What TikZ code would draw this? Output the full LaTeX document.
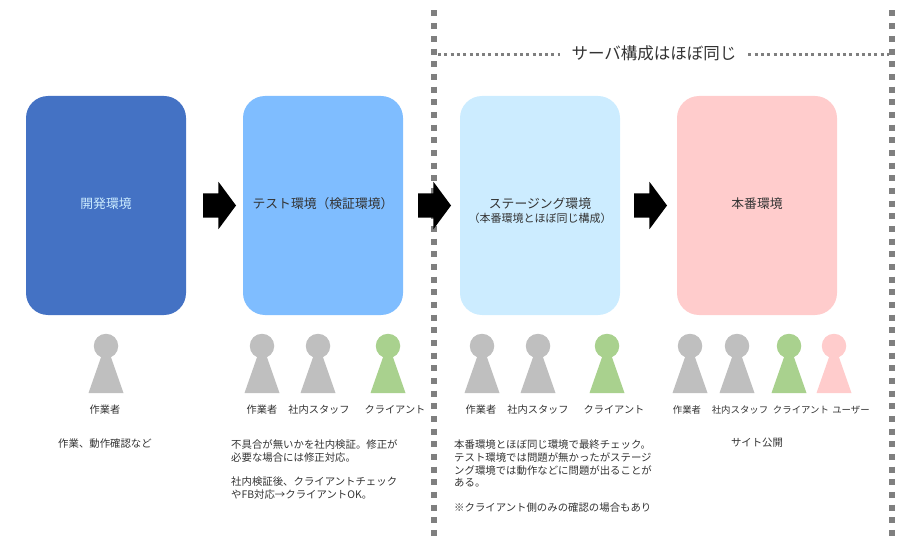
\documentclass[tikz,border=0pt]{standalone}
\usepackage{fontspec}
\setmainfont{Noto Sans CJK JP}
\definecolor{dev}{HTML}{4472C4}
\definecolor{tst}{HTML}{7FBDFF}
\definecolor{stg}{HTML}{CCECFF}
\definecolor{prd}{HTML}{FFCCCC}
\definecolor{staff}{HTML}{BFBFBF}
\definecolor{client}{HTML}{A9D18E}
\definecolor{ink}{HTML}{333333}
\definecolor{dash}{HTML}{7F7F7F}
\usetikzlibrary{positioning,shapes.arrows}
\tikzset{
  envbox/.style={rounded corners=22pt,minimum width=160pt,minimum height=219pt,inner sep=0pt,outer sep=0pt,align=center,text=ink,text height=10pt,text depth=4pt,font=\fontsize{12.8}{15}\selectfont},
  nextarr/.style={single arrow,fill=black,minimum height=33pt,minimum width=47pt,single arrow head extend=11.5pt,single arrow tip angle=107,inner xsep=0pt,inner ysep=12pt,outer sep=0pt},
  head/.style={circle,minimum size=24.5pt,inner sep=0pt,outer sep=0pt},
  who/.style={font=\fontsize{10.2}{12}\selectfont,text=ink,inner sep=0pt},
  whos/.style={who,font=\fontsize{9.4}{12}\selectfont},
  note/.style={font=\fontsize{10.4}{12.8}\selectfont,text=ink,align=left,inner sep=0pt},
  bigdash/.style={draw=dash,line width=5.5pt,dash pattern=on 6pt off 6.67pt},
  smalldots/.style={draw=dash,line width=3pt,dash pattern=on 3pt off 3.3pt},
}
\begin{document}
\begin{tikzpicture}[x=1pt,y=-1pt]
\useasboundingbox (0,0) rectangle (916,556);
\node[envbox,fill=dev,text=stg] (kaihatsu) at (106,205.5) {開発環境};
\node[envbox,fill=tst,right=57pt of kaihatsu] (test) {テスト環境（検証環境）};
\node[envbox,fill=stg,right=57pt of test] (staging) {ステージング環境};
\node[envbox,fill=prd,right=57pt of staging] (honban) {本番環境};
\node[font=\fontsize{11}{13}\selectfont,text=ink,inner sep=0pt,below=7pt of staging.center] (stgsub) {（本番環境とほぼ同じ構成）};
% server group
\coordinate (dl) at (434,10.5);
\coordinate (dlb) at (434,538);
\coordinate (dr) at (892,10.5);
\coordinate (drb) at (892,538);
\coordinate (hl) at (438,55);
\coordinate (hr) at (889,55);
\draw[bigdash] (dl)--(dlb);
\draw[bigdash] (dr)--(drb);
\node[font=\fontsize{16.5}{19}\selectfont,text=ink,inner xsep=12pt,inner ysep=0pt,outer sep=0pt] (same) at (654,53) {サーバ構成はほぼ同じ};
\draw[smalldots] (hl)--(hl-|same.west);
\draw[smalldots] (hr-|same.east)--(hr);
\node[nextarr,right=17pt of kaihatsu] (na) {};
\node[nextarr,right=15pt of test] (nb) {};
\node[nextarr,right=14pt of staging] (nc) {};
% people
\foreach \i/\x/\c in {1/106/staff,2/262/staff,3/318/staff,4/388/client,5/482/staff,6/538/staff,7/607/client,8/690/staff,9/737/staff,10/789/client,11/834/prd} {
  \node[head,fill=\c] (head\i) at (\x,346) {};
  \fill[\c] (\x-17.5,393)--(\x-3.5,353)--(\x+3.5,353)--(\x+17.5,393)--cycle;
}
\node[who] (w1) at (105,410) {作業者};
\node[who] (w2) at (262,410) {作業者};
\node[who] (w3) at (319,410) {社内スタッフ};
\node[who] (w4) at (395,410) {クライアント};
\node[who] (w5) at (481,410) {作業者};
\node[who] (w6) at (538,410) {社内スタッフ};
\node[who] (w7) at (614,410) {クライアント};
\node[whos] (w8) at (687,410) {作業者};
\node[whos] (w9) at (740,410) {社内スタッフ};
\node[whos] (w10) at (801,410) {クライアント};
\node[whos] (w11) at (851,410) {ユーザー};
% notes
\node[note] (n1) at (105,444) {作業、動作確認など};
\node[note,anchor=north west] (n2) at (231,439.5) {不具合が無いかを社内検証。修正が\\必要な場合には修正対応。\\[11.5pt]社内検証後、クライアントチェック\\やFB対応→クライアントOK。};
\node[note,anchor=north west] (n3) at (454,439.5) {本番環境とほぼ同じ環境で最終チェック。\\テスト環境では問題が無かったがステージ\\ング環境では動作などに問題が出ることが\\ある。\\[12pt]※クライアント側のみの確認の場合もあり};
\node[note] (n4) at (757,443) {サイト公開};
\end{tikzpicture}
\end{document}
